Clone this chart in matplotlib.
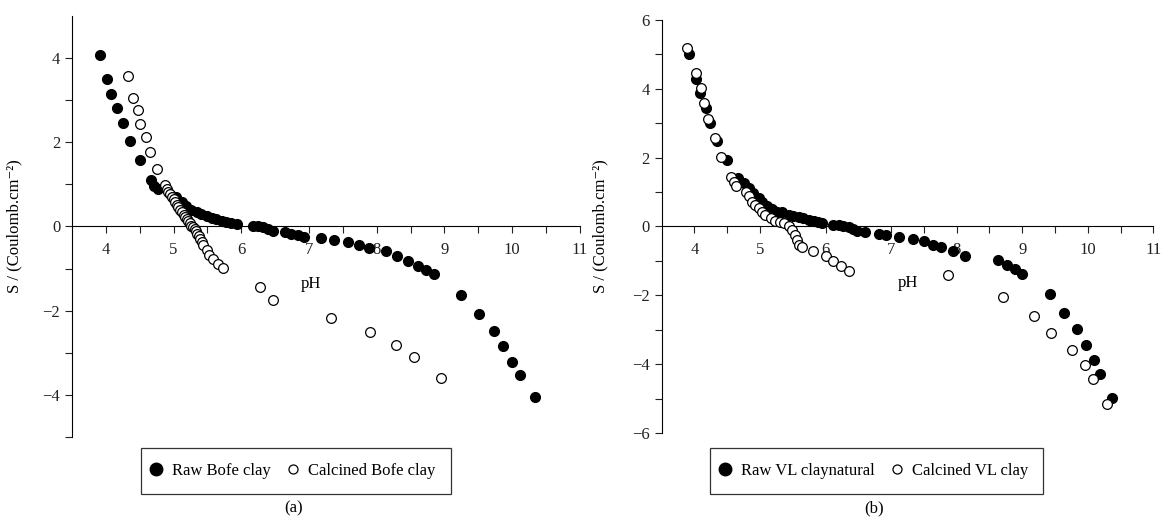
import numpy as np
import matplotlib
matplotlib.use("Agg")
import matplotlib.pyplot as plt
from matplotlib.lines import Line2D

plt.rcParams['font.family'] = ['Liberation Serif', 'DejaVu Serif']
plt.rcParams['font.size'] = 12

# (a) Bofe clay
raw_bofe_ph = [3.91, 4.01, 4.08, 4.16, 4.25, 4.36, 4.50, 4.66, 4.71, 4.77,
               5.04, 5.12, 5.19, 5.26, 5.34, 5.41, 5.49, 5.56, 5.63, 5.71, 5.78, 5.85, 5.93,
               6.17, 6.25, 6.32, 6.39, 6.47, 6.64, 6.74, 6.83, 6.93,
               7.18, 7.37, 7.57, 7.74, 7.89, 8.13, 8.30, 8.46, 8.61, 8.73, 8.84,
               9.25, 9.51, 9.73, 9.86, 10.00, 10.12, 10.33]
raw_bofe_s = [4.08, 3.49, 3.15, 2.82, 2.45, 2.02, 1.57, 1.10, 0.96, 0.88,
              0.70, 0.58, 0.48, 0.40, 0.34, 0.29, 0.24, 0.21, 0.17, 0.14, 0.11, 0.08, 0.05,
              0.02, 0.01, -0.02, -0.07, -0.12, -0.13, -0.19, -0.21, -0.24,
              -0.27, -0.33, -0.37, -0.43, -0.51, -0.59, -0.71, -0.81, -0.94, -1.03, -1.14,
              -1.63, -2.08, -2.48, -2.85, -3.21, -3.52, -4.05]

calc_bofe_ph = [4.32, 4.40, 4.47, 4.51, 4.59, 4.65, 4.76,
                4.87, 4.90, 4.92, 4.95, 4.97, 5.00, 5.02, 5.05, 5.07, 5.10, 5.12, 5.15,
                5.17, 5.20, 5.22, 5.24, 5.26, 5.29, 5.31, 5.33, 5.35, 5.37, 5.39, 5.42,
                5.44, 5.49, 5.53, 5.58, 5.65, 5.73,
                6.27, 6.47, 7.32, 7.90, 8.29, 8.55, 8.95]
calc_bofe_s = [3.56, 3.04, 2.76, 2.44, 2.13, 1.77, 1.37,
               0.98, 0.90, 0.82, 0.76, 0.70, 0.64, 0.58, 0.52, 0.46, 0.40, 0.34, 0.28,
               0.22, 0.18, 0.14, 0.08, 0.02, -0.01, -0.05, -0.11, -0.17, -0.23, -0.29, -0.37,
               -0.45, -0.57, -0.69, -0.77, -0.89, -0.98,
               -1.43, -1.75, -2.17, -2.50, -2.81, -3.09, -3.60]

# (b) VL clay
raw_vl_ph = [3.92, 4.03, 4.09, 4.17, 4.24, 4.35, 4.49,
             4.67, 4.75, 4.83, 4.90, 4.98, 5.03, 5.11, 5.18, 5.26, 5.33,
             5.44, 5.51, 5.59, 5.66, 5.74, 5.82, 5.89, 5.94,
             6.12, 6.20, 6.27, 6.35, 6.42, 6.48, 6.60, 6.81, 6.92,
             7.12, 7.33, 7.50, 7.64, 7.76, 7.94, 8.13,
             8.63, 8.77, 8.89, 9.00,
             9.42, 9.63, 9.83, 9.98, 10.09, 10.19, 10.37]
raw_vl_s = [5.00, 4.27, 3.88, 3.45, 3.00, 2.49, 1.93,
            1.40, 1.26, 1.11, 0.97, 0.82, 0.72, 0.58, 0.50, 0.43, 0.41,
            0.34, 0.31, 0.27, 0.24, 0.19, 0.17, 0.13, 0.10,
            0.05, 0.03, 0.02, -0.02, -0.08, -0.12, -0.17, -0.21, -0.24,
            -0.31, -0.37, -0.43, -0.53, -0.60, -0.70, -0.85,
            -0.97, -1.12, -1.24, -1.37,
            -1.96, -2.51, -2.99, -3.45, -3.88, -4.27, -4.97]

calc_vl_ph = [3.88, 4.03, 4.10, 4.14, 4.21, 4.31, 4.41,
              4.55, 4.60, 4.64, 4.78, 4.83, 4.88, 4.93, 4.98, 5.03, 5.08, 5.16,
              5.23, 5.31, 5.37, 5.44, 5.49, 5.54, 5.57, 5.60, 5.64,
              5.81, 6.01, 6.11, 6.23, 6.35,
              7.87, 8.70, 9.18, 9.44, 9.76, 9.95, 10.08, 10.29]
calc_vl_s = [5.17, 4.45, 4.03, 3.58, 3.11, 2.58, 2.03,
             1.45, 1.30, 1.18, 1.01, 0.87, 0.72, 0.63, 0.53, 0.43, 0.34, 0.24,
             0.17, 0.14, 0.10, 0.00, -0.10, -0.24, -0.39, -0.53, -0.60,
             -0.72, -0.87, -1.01, -1.14, -1.28,
             -1.40, -2.04, -2.60, -3.10, -3.59, -4.02, -4.42, -5.14]

fig = plt.figure(figsize=(11.65, 5.2), dpi=100)
ax1 = fig.add_axes([0.0618, 0.1596, 0.436, 0.81])
ax2 = fig.add_axes([0.568, 0.167, 0.422, 0.795])


def style_axes(ax, ymax, ph_xy, ylab_x):
    ax.set_xlim(3.5, 11)
    ax.set_ylim(-ymax, ymax)
    for s in ['top', 'right']:
        ax.spines[s].set_visible(False)
    ax.spines['bottom'].set_position(('data', 0))
    ax.spines['bottom'].set_zorder(1)
    ax.set_xticks(np.arange(4, 12, 1))
    ax.set_xticks(np.arange(4.5, 11, 1), minor=True)
    ax.set_yticks(np.arange(-ymax + (ymax % 2), ymax + 1, 2))
    ax.set_yticks(np.arange(-ymax + 1 - (ymax % 2), ymax, 2), minor=True)
    ax.tick_params(which='both', direction='out', length=5, width=0.8, colors='#222222',
                   labelsize=12, labelcolor='#222222')
    ax.tick_params(axis='x', pad=6)
    ax.set_ylabel('S / (Coulomb.cm\u207b\u00b2)', fontsize=12)
    ax.yaxis.set_label_coords(ylab_x, 0.5)
    ax.text(ph_xy[0], ph_xy[1], 'pH', ha='center', va='center', fontsize=12)


ms = 7
ax1.plot(raw_bofe_ph, raw_bofe_s, 'o', color='black', ms=ms, zorder=3)
ax1.plot(calc_bofe_ph, calc_bofe_s, 'o', mfc='white', mec='black', mew=0.9, ms=ms, zorder=4)
style_axes(ax1, 5, (7.03, -1.36), -0.098)

ax2.plot(raw_vl_ph, raw_vl_s, 'o', color='black', ms=ms, zorder=3)
ax2.plot(calc_vl_ph, calc_vl_s, 'o', mfc='white', mec='black', mew=0.9, ms=ms, zorder=4)
style_axes(ax2, 6, (7.26, -1.63), -0.108)

h_raw = Line2D([], [], ls='none', marker='o', color='black', ms=9)
h_cal = Line2D([], [], ls='none', marker='o', mfc='white', mec='black', mew=0.9, ms=6.5)

for lbls, cx, tag in [(['Raw Bofe clay', 'Calcined Bofe clay'], 0.254, '(a)'),
                      (['Raw VL claynatural', 'Calcined VL clay'], 0.7526, '(b)')]:
    leg = fig.legend([h_raw, h_cal], lbls, loc='center', bbox_to_anchor=(cx, 0.095), ncol=2,
                     frameon=True, fancybox=False, edgecolor='black', fontsize=12,
                     handletextpad=0.92, columnspacing=1.35, handlelength=0,
                     borderpad=0.9)
    leg.get_frame().set_linewidth(0.9)
    fig.text(cx - 0.002, 0.023, tag, ha='center', va='center', fontsize=12)

fig.savefig('out.png', dpi=100)
